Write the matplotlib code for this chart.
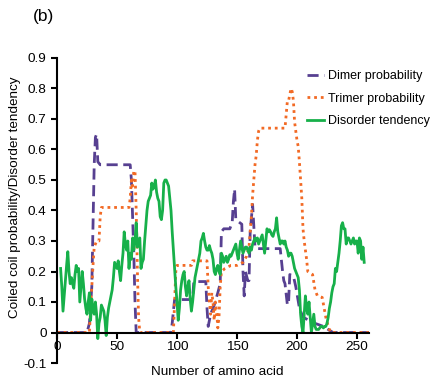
import numpy as np
import matplotlib
matplotlib.use("Agg")
import matplotlib.pyplot as plt
from matplotlib.ticker import FuncFormatter

plt.rcParams['font.family'] = ['Liberation Sans', 'DejaVu Sans']

# dimer probability (amino acid number, value)
dimer_pos = [0, 25, 27, 29, 30, 31, 32, 33, 34, 36,
             61, 62, 63, 64, 65, 66, 95, 96, 97, 98,
             113, 114, 124, 125, 126, 128, 131, 134, 136, 137,
             139, 144, 146, 147, 148, 149, 154, 155, 156, 157,
             159, 160, 161, 163, 164, 165, 166, 186, 188, 189,
             190, 192, 193, 194, 197, 199, 202, 205, 210, 215,
             222, 230, 260]
dimer_val = [0, 0, 0.03, 0.15, 0.35, 0.55, 0.64, 0.65, 0.56, 0.55,
             0.55, 0.5, 0.38, 0.26, 0.1, 0, 0, 0.03, 0.07, 0.108,
             0.108, 0.167, 0.167, 0.08, 0.02, 0.06, 0.09, 0.13, 0.16, 0.33,
             0.34, 0.34, 0.36, 0.43, 0.47, 0.37, 0.355, 0.2, 0.12, 0.2,
             0.17, 0.17, 0.33, 0.42, 0.35, 0.28, 0.275, 0.275, 0.2, 0.17,
             0.16, 0.09, 0.1, 0.19, 0.185, 0.15, 0.08, 0.05, 0.04, 0.03,
             0.02, 0, 0]

# trimer probability
trimer_pos = [0, 27, 28, 29, 30, 31, 33, 35, 36, 37,
              60, 61, 62, 63, 64, 65, 66, 67, 68, 69,
              97, 98, 99, 100, 112, 113, 125, 126, 127, 128,
              129, 130, 131, 132, 133, 134, 135, 136, 137, 140,
              145, 150, 155, 158, 160, 161, 162, 163, 164, 165,
              166, 167, 168, 169, 188, 190, 192, 193, 194, 195,
              196, 197, 198, 199, 200, 201, 202, 203, 204, 205,
              206, 207, 208, 209, 213, 215, 217, 221, 224, 226,
              228, 260]
trimer_val = [0, 0, 0.08, 0.15, 0.22, 0.28, 0.3, 0.3, 0.38, 0.41,
              0.41, 0.44, 0.5, 0.48, 0.53, 0.53, 0.4, 0.2, 0.05, 0,
              0, 0.1, 0.2, 0.22, 0.22, 0.235, 0.235, 0.15, 0.1, 0.06,
              0.13, 0.1, 0.04, 0.1, 0.07, 0.015, 0.05, 0.15, 0.2, 0.21,
              0.22, 0.22, 0.23, 0.25, 0.28, 0.33, 0.38, 0.45, 0.5, 0.55,
              0.58, 0.63, 0.66, 0.67, 0.67, 0.67, 0.76, 0.76, 0.78, 0.8,
              0.79, 0.76, 0.69, 0.66, 0.63, 0.61, 0.56, 0.5, 0.44, 0.34,
              0.3, 0.27, 0.24, 0.2, 0.19, 0.14, 0.12, 0.115, 0.05, 0.02,
              0, 0]

# disorder tendency, one value per residue starting at residue 3
disorder_start = 3
disorder_val = [
    0.21, 0.15, 0.07, 0.12, 0.17, 0.22, 0.265, 0.2, 0.16, 0.18,
    0.16, 0.145, 0.19, 0.22, 0.2, 0.21, 0.1, 0.15, 0.2, 0.16,
    0.11, 0.08, 0.06, 0.1, 0.13, 0.04, 0.11, 0.08, 0.06, 0.1,
    0.06, -0.02, 0.03, 0.05, 0.09, 0.08, 0.07, 0.04, -0.01, 0.05,
    0.08, 0.1, 0.12, 0.14, 0.18, 0.23, 0.22, 0.21, 0.235, 0.2,
    0.17, 0.22, 0.26, 0.33, 0.29, 0.27, 0.3, 0.21, 0.26, 0.24,
    0.31, 0.27, 0.3, 0.36, 0.28, 0.3, 0.31, 0.21, 0.23, 0.24,
    0.3, 0.35, 0.4, 0.43, 0.44, 0.45, 0.49, 0.47, 0.48, 0.5,
    0.46, 0.44, 0.43, 0.38, 0.37, 0.4, 0.49, 0.5, 0.5, 0.49,
    0.48, 0.44, 0.4, 0.33, 0.27, 0.21, 0.15, 0.1, 0.04, 0.08,
    0.14, 0.17, 0.19, 0.2, 0.15, 0.12, 0.15, 0.17, 0.11, 0.07,
    0.1, 0.14, 0.18, 0.2, 0.22, 0.24, 0.26, 0.3, 0.31, 0.325,
    0.3, 0.28, 0.27, 0.27, 0.285, 0.27, 0.26, 0.24, 0.2, 0.19,
    0.21, 0.22, 0.2, 0.19, 0.26, 0.25, 0.23, 0.24, 0.25, 0.23,
    0.24, 0.255, 0.25, 0.26, 0.27, 0.28, 0.29, 0.26, 0.24, 0.27,
    0.3, 0.28, 0.26, 0.27, 0.28, 0.28, 0.27, 0.26, 0.28, 0.27,
    0.29, 0.3, 0.31, 0.3, 0.31, 0.29, 0.3, 0.31, 0.32, 0.29,
    0.26, 0.3, 0.34, 0.33, 0.337, 0.33, 0.32, 0.315, 0.33, 0.34,
    0.376, 0.33, 0.31, 0.29, 0.3, 0.3, 0.29, 0.3, 0.28, 0.27,
    0.25, 0.26, 0.26, 0.25, 0.23, 0.21, 0.2, 0.19, 0.18, 0.14,
    0.06, 0.02, 0.0, 0.06, 0.12, 0.08, 0.06, 0.1, 0.05, 0.0,
    0.03, 0.06, 0.02, 0.01, 0.01, 0.01, 0.015, 0.02, 0.02, 0.015,
    0.02, 0.02, 0.03, 0.05, 0.08, 0.1, 0.13, 0.15, 0.16, 0.21,
    0.2, 0.23, 0.26, 0.3, 0.35, 0.36, 0.34, 0.34, 0.29, 0.31,
    0.31, 0.3, 0.29, 0.3, 0.31, 0.29, 0.3, 0.3, 0.26, 0.31,
    0.3, 0.24, 0.28, 0.23]
disorder_pos = np.arange(disorder_start, disorder_start + len(disorder_val))

x_ticks = [0, 50, 100, 150, 200, 250]
y_ticks = [-0.1, 0, 0.1, 0.2, 0.3, 0.4, 0.5, 0.6, 0.7, 0.8, 0.9]

fig = plt.figure(figsize=(4.31, 3.80), dpi=100)
ax = fig.add_axes([57 / 431, 17 / 380, 312 / 431, 305 / 380])

ax.plot(dimer_pos, dimer_val, color='#574091', lw=2, dashes=(4, 2),
        label='Dimer probability')
ax.plot(trimer_pos, trimer_val, color='#F26A25', lw=2, dashes=(1, 1.4),
        label='Trimer probability')
ax.plot(disorder_pos, disorder_val, color='#17B04A', lw=2,
        label='Disorder tendency')

ax.set_xlim(0, 260)
ax.set_ylim(-0.1, 0.9)
ax.set_xticks(x_ticks)
ax.set_yticks(y_ticks)
ax.yaxis.set_major_formatter(FuncFormatter(lambda v, p: '%g' % round(v, 2)))
ax.spines['top'].set_visible(False)
ax.spines['right'].set_visible(False)
ax.spines['bottom'].set_position(('data', 0))
ax.spines['left'].set_linewidth(1.5)
ax.spines['bottom'].set_linewidth(1.5)
ax.tick_params(axis='both', labelsize=9.7, width=1.5, length=4, colors='black')
ax.tick_params(axis='x', pad=2)

ax.set_ylabel('Coiled coil probability/Disorder tendency', fontsize=9.7)
ax.yaxis.set_label_coords(-0.115, 0.545)
fig.text(217 / 431, 1 - 372 / 380, 'Number of amino acid', fontsize=9.7,
         ha='center', va='center')
fig.text(33 / 431, 1 - 16 / 380, '(b)', fontsize=12.5, ha='left', va='center')

ax.legend(loc='upper left', bbox_to_anchor=(307 / 431, 1 - 70 / 380),
          bbox_transform=fig.transFigure, frameon=False, fontsize=9,
          handlelength=1.4, handletextpad=0.25, labelspacing=0.85,
          borderpad=0, borderaxespad=0)

fig.savefig('out.png', dpi=100)
